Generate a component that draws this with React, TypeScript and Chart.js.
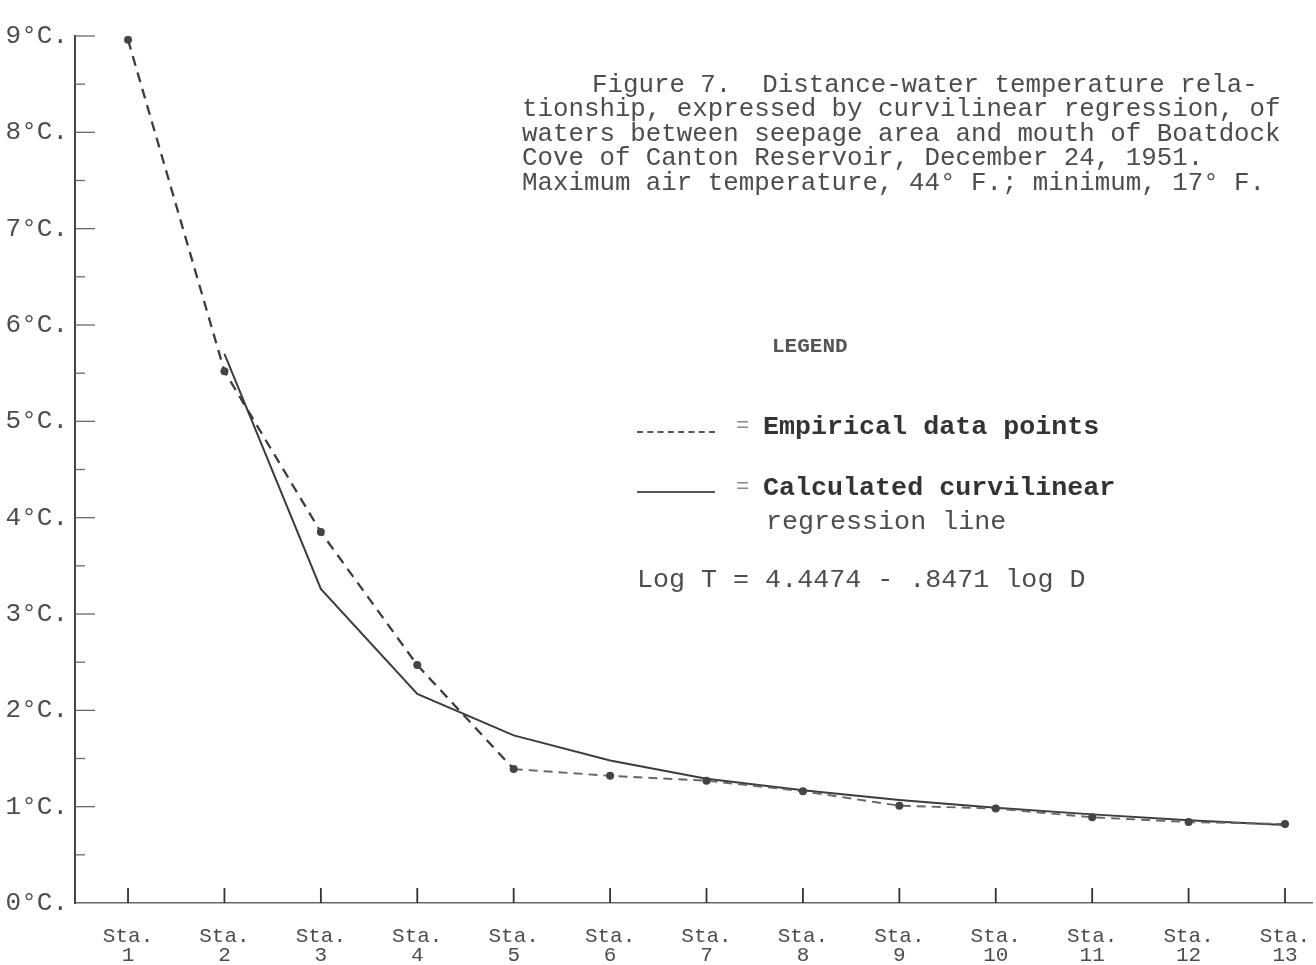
import React, { useEffect, useRef } from "react";
import { Chart, registerables } from "chart.js";

Chart.register(...registerables);

const stations = [1, 2, 3, 4, 5, 6, 7, 8, 9, 10, 11, 12, 13];
const stationLabels = stations.map((s) => ["Sta.", String(s)]);
const empirical = [8.96, 5.52, 3.85, 2.47, 1.39, 1.32, 1.27, 1.16, 1.01, 0.98, 0.89, 0.84, 0.82];
const calculated = [null, 5.7, 3.26, 2.17, 1.74, 1.48, 1.29, 1.17, 1.07, 0.99, 0.92, 0.86, 0.81];
const yTickValues = [0, 1, 2, 3, 4, 5, 6, 7, 8, 9];
const yMinorValues = [0.5, 1.5, 2.5, 3.5, 4.5, 5.5, 6.5, 7.5, 8.5];

const titleLines = [
  "Figure 7.  Distance-water temperature rela-",
  "tionship, expressed by curvilinear regression, of",
  "waters between seepage area and mouth of Boatdock",
  "Cove of Canton Reservoir, December 24, 1951.",
  "Maximum air temperature, 44° F.; minimum, 17° F.",
];

const MONO = '"Liberation Mono", "DejaVu Sans Mono", monospace';
const INK = "#3c3c3c";
const TEXT = "#4d4d4d";

const insideTicks = {
  id: "insideTicks",
  afterDraw(chart: any) {
    const { ctx } = chart;
    const y = chart.scales.y;
    const x = chart.scales.x;
    const left = chart.chartArea.left;
    const bottom = chart.chartArea.bottom;
    ctx.save();
    ctx.strokeStyle = "#6a6a6a";
    ctx.lineWidth = 1.3;
    yTickValues.forEach((v) => {
      if (v === 0) return;
      const py = y.getPixelForValue(v);
      ctx.beginPath();
      ctx.moveTo(left, py);
      ctx.lineTo(left + 20, py);
      ctx.stroke();
    });
    yMinorValues.forEach((v) => {
      const py = y.getPixelForValue(v);
      ctx.beginPath();
      ctx.moveTo(left, py);
      ctx.lineTo(left + 10, py);
      ctx.stroke();
    });
    ctx.strokeStyle = "#333";
    ctx.lineWidth = 1.8;
    stations.forEach((s) => {
      const px = x.getPixelForValue(s);
      ctx.beginPath();
      ctx.moveTo(px, bottom);
      ctx.lineTo(px, bottom - 15);
      ctx.stroke();
    });
    ctx.restore();
  },
};

export default function App() {
  const canvasRef = useRef<HTMLCanvasElement | null>(null);

  useEffect(() => {
    if (!canvasRef.current) return;
    const chart = new Chart(canvasRef.current, {
      type: "line",
      data: {
        datasets: [
          {
            label: "Empirical data points",
            data: stations.map((s, i) => ({ x: s, y: empirical[i] })),
            borderColor: INK,
            borderWidth: 2.3,
            borderDash: [10, 7],
            pointRadius: 4,
            pointBackgroundColor: "#444",
            pointBorderColor: "#444",
            pointBorderWidth: 0,
            tension: 0,
            segment: {
              borderDash: (c: any) => (c.p0DataIndex >= 4 ? [9, 6] : undefined),
              borderColor: (c: any) => (c.p0DataIndex >= 4 ? "#666" : undefined),
              borderWidth: (c: any) => (c.p0DataIndex >= 4 ? 1.9 : undefined),
            },
          },
          {
            label: "Calculated curvilinear regression line",
            data: stations.map((s, i) => ({ x: s, y: calculated[i] })),
            borderColor: INK,
            borderWidth: 2,
            pointRadius: 0,
            tension: 0,
            spanGaps: false,
          },
        ],
      },
      options: {
        responsive: false,
        animation: false,
        layout: { padding: { top: 36, left: 0, right: 0, bottom: 0 } },
        plugins: {
          legend: { display: false },
          tooltip: { enabled: false },
          title: { display: false },
        },
        scales: {
          x: {
            type: "linear",
            min: 0.45,
            max: 13.28,
            afterBuildTicks: (s: any) => {
              s.ticks = stations.map((v) => ({ value: v }));
            },
            afterFit: (s: any) => {
              s.height = 62;
              s.paddingLeft = 0;
              s.paddingRight = 0;
            },
            grid: { display: false, drawTicks: false },
            border: { display: true, color: "#666", width: 1.6 },
            ticks: {
              padding: 23,
              color: TEXT,
              font: { family: MONO, size: 21, lineHeight: 0.95 },
              maxRotation: 0,
              autoSkip: false,
              callback: (_v: any, i: number) => stationLabels[i],
            },
          },
          y: {
            type: "linear",
            min: 0,
            max: 9,
            afterBuildTicks: (s: any) => {
              s.ticks = yTickValues.map((v) => ({ value: v }));
            },
            afterFit: (s: any) => {
              s.width = 75;
            },
            grid: { display: false, drawTicks: false },
            border: { display: true, color: "#444", width: 2 },
            ticks: {
              padding: 7,
              color: TEXT,
              font: { family: MONO, size: 26 },
              callback: (v: any) => `${v}°C.`,
            },
          },
        },
      },
      plugins: [insideTicks],
    });
    return () => chart.destroy();
  }, []);

  const textBase: React.CSSProperties = {
    position: "absolute",
    fontFamily: MONO,
    color: TEXT,
    whiteSpace: "pre",
    margin: 0,
  };

  return (
    <div style={{ position: "absolute", left: 0, top: 0, width: 1316, height: 965, background: "#fff" }}>
      <canvas ref={canvasRef} width={1316} height={965} style={{ display: "block" }} />
      {titleLines.map((line, i) => (
        <div
          key={i}
          style={{
            ...textBase,
            left: i === 0 ? 592 : 522,
            top: 74 + i * 24.4,
            fontSize: 25.8,
            lineHeight: "24px",
          }}
        >
          {line}
        </div>
      ))}
      <div style={{ ...textBase, left: 772, top: 335, fontSize: 21, lineHeight: "24px", fontWeight: 700, color: "#555" }}>
        LEGEND
      </div>
      <div style={{ position: "absolute", left: 637, top: 431, width: 78, borderTop: "2px dashed #555" }} />
      <div style={{ ...textBase, left: 736, top: 415, fontSize: 22, lineHeight: "24px", color: "#888" }}>=</div>
      <div style={{ ...textBase, left: 763, top: 413, fontSize: 26.7, lineHeight: "28px", fontWeight: 700, color: "#333" }}>
        Empirical data points
      </div>
      <div style={{ position: "absolute", left: 637, top: 491, width: 78, borderTop: "2px solid #555" }} />
      <div style={{ ...textBase, left: 736, top: 476, fontSize: 22, lineHeight: "24px", color: "#888" }}>=</div>
      <div style={{ ...textBase, left: 763, top: 474, fontSize: 26.7, lineHeight: "28px", fontWeight: 700, color: "#333" }}>
        Calculated curvilinear
      </div>
      <div style={{ ...textBase, left: 766, top: 508, fontSize: 26.7, lineHeight: "28px" }}>regression line</div>
      <div style={{ ...textBase, left: 637, top: 566, fontSize: 26.7, lineHeight: "28px" }}>
        Log T = 4.4474 - .8471 log D
      </div>
    </div>
  );
}
